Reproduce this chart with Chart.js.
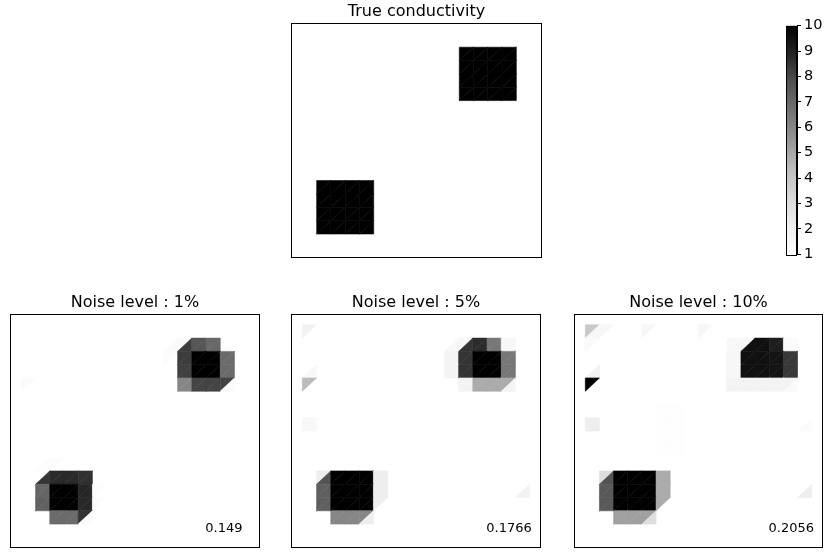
<!DOCTYPE html>
<html>
<head>
<meta charset="utf-8">
<script src="https://cdn.jsdelivr.net/npm/chart.js@4.4.0/dist/chart.umd.min.js"></script>
<style>
  body { margin: 0; background: #fff; width: 825px; height: 554px; position: relative; overflow: hidden; }
  .panel { position: absolute; }
</style>
</head>
<body>
<div class="panel" style="left:291px;top:0px;width:251px;height:258px"><canvas id="c-true"></canvas></div>
<div class="panel" style="left:10px;top:291px;width:250px;height:257px"><canvas id="c-n1"></canvas></div>
<div class="panel" style="left:291px;top:291px;width:250px;height:257px"><canvas id="c-n5"></canvas></div>
<div class="panel" style="left:574px;top:291px;width:249px;height:257px"><canvas id="c-n10"></canvas></div>
<div class="panel" style="left:786px;top:14px;width:41px;height:252px"><canvas id="c-bar"></canvas></div>
<script>
// ── MESH CONDUCTIVITY PANELS ──
// 16x16 mesh, each cell split on the "/" diagonal.
// cell entries: [col, row (from bottom), part, value]
// part: 'S' whole cell, 'U' upper-left triangle, 'L' lower-right triangle

const trueCells = [
  [1,1,'S',10],[2,1,'S',10],[3,1,'S',10],[4,1,'S',10],
  [1,2,'S',10],[2,2,'S',10],[3,2,'S',10],[4,2,'S',10],
  [1,3,'S',10],[2,3,'S',10],[3,3,'S',10],[4,3,'S',10],
  [1,4,'S',10],[2,4,'S',10],[3,4,'S',10],[4,4,'S',10],
  [11,11,'S',10],[12,11,'S',10],[13,11,'S',10],[14,11,'S',10],
  [11,12,'S',10],[12,12,'S',10],[13,12,'S',10],[14,12,'S',10],
  [11,13,'S',10],[12,13,'S',10],[13,13,'S',10],[14,13,'S',10],
  [11,14,'S',10],[12,14,'S',10],[13,14,'S',10],[14,14,'S',10],
];

const noise1Cells = [
  [10,14,'L',1.4],[11,14,'U',1.4],[10,13,'U',1.3],
  [11,14,'L',8.3],[12,14,'S',7.6],[13,14,'S',7.0],
  [11,13,'S',8.3],[12,13,'S',10],[13,13,'S',10],[14,13,'S',6.9],
  [11,12,'S',8.2],[12,12,'S',10],[13,12,'S',10],[14,12,'S',6.9],
  [11,11,'S',6.0],[12,11,'S',8.1],[13,11,'S',8.1],[14,11,'U',8.1],[14,11,'L',1.2],
  [0,11,'U',1.4],
  [1,5,'L',1.2],[2,5,'U',1.2],
  [1,4,'L',8.5],[2,4,'S',8.75],[3,4,'S',8.75],[4,4,'S',8.6],
  [1,3,'S',7.1],[2,3,'S',10],[3,3,'S',10],[4,3,'S',8.85],[5,3,'U',1.2],
  [1,2,'S',7.25],[2,2,'S',10],[3,2,'S',10],[4,2,'S',8.8],[5,2,'U',1.2],
  [2,1,'S',6.9],[3,1,'S',6.9],[4,1,'U',8.5],[4,1,'L',1.2],
];

const noise5Cells = [
  [10,14,'L',1.5],[11,14,'U',1.5],[11,14,'L',8.5],[12,14,'S',8.7],[13,14,'S',6.5],[14,14,'S',1.6],
  [10,13,'S',1.8],[11,13,'S',8.5],[12,13,'S',10],[13,13,'S',10],[14,13,'S',6.5],
  [10,12,'S',1.8],[11,12,'S',8.5],[12,12,'S',10],[13,12,'S',10],[14,12,'S',6.5],
  [11,11,'S',1.8],[12,11,'S',4.9],[13,11,'S',4.9],[14,11,'U',4.9],[14,11,'L',1.8],
  [1,4,'U',2.2],[1,4,'L',7.7],[2,4,'S',10],[3,4,'S',10],[4,4,'S',10],[5,4,'S',2.2],
  [1,3,'S',7.3],[2,3,'S',10],[3,3,'S',10],[4,3,'S',10],[5,3,'S',2.2],
  [1,2,'S',7.3],[2,2,'S',10],[3,2,'S',10],[4,2,'S',10],[5,2,'U',2.2],
  [2,1,'S',6.0],[3,1,'S',6.0],[4,1,'U',6.0],[4,1,'L',2.2],
  [0,15,'U',2.0],[0,12,'L',1.5],[0,11,'U',4.4],[0,8,'S',1.5],[15,3,'L',2.0],
];

const noise10Cells = [
  [10,14,'S',1.5],[11,14,'U',1.5],[11,14,'L',9.5],[12,14,'S',9.5],[13,14,'S',9.1],[14,14,'S',1.3],
  [10,13,'S',1.6],[11,13,'S',9.5],[12,13,'S',9.5],[13,13,'S',9.4],[14,13,'S',8.4],
  [10,12,'S',1.6],[11,12,'S',9.5],[12,12,'S',9.5],[13,12,'S',9.4],[14,12,'S',8.4],
  [10,11,'S',1.8],[11,11,'S',1.9],[12,11,'S',1.9],[13,11,'S',1.9],[14,11,'U',1.9],[14,11,'L',1.4],
  [1,4,'U',3.05],[1,4,'L',7.7],[2,4,'S',10],[3,4,'S',10],[4,4,'S',10],[5,4,'S',4.9],
  [1,3,'S',7.5],[2,3,'S',10],[3,3,'S',10],[4,3,'S',10],[5,3,'S',4.9],
  [1,2,'S',7.5],[2,2,'S',10],[3,2,'S',10],[4,2,'S',10],[5,2,'U',4.9],
  [2,1,'S',5.2],[3,1,'S',5.2],[4,1,'U',5.2],[4,1,'L',3.0],
  [0,15,'U',3.9],[0,15,'L',1.6],[1,15,'U',1.6],[0,14,'U',1.4],
  [4,15,'U',1.6],[8,15,'U',1.6],
  [0,12,'L',2.0],[0,11,'U',10],[0,8,'S',2.2],
  [15,3,'L',2.2],[15,8,'L',1.3],
  [5,9,'S',1.1],[6,9,'S',1.1],[5,8,'S',1.1],[6,8,'S',1.1],
  [5,7,'S',1.1],[6,7,'S',1.1],[5,6,'S',1.1],[6,6,'S',1.1],
];

const panelTitles = ['True conductivity', 'Noise level : 1%', 'Noise level : 5%', 'Noise level : 10%'];
const errorLabels = ['', '0.149', '0.1766', '0.2056'];
const colorbarTicks = [1, 2, 3, 4, 5, 6, 7, 8, 9, 10];
const vMin = 1, vMax = 10;

// matplotlib "Greys" colormap stops
const greyStops = ['#ffffff','#f0f0f0','#d9d9d9','#bdbdbd','#969696','#737373','#525252','#252525','#000000'];

function greys(v) {
  const t = Math.min(1, Math.max(0, (v - vMin) / (vMax - vMin))) * (greyStops.length - 1);
  const i = Math.min(greyStops.length - 2, Math.floor(t));
  const f = t - i;
  const a = parseInt(greyStops[i].slice(1, 3), 16);
  const b = parseInt(greyStops[i + 1].slice(1, 3), 16);
  const g = Math.round(a + (b - a) * f);
  return `rgb(${g},${g},${g})`;
}

const FONT = '"DejaVu Sans", sans-serif';

const meshPlugin = {
  id: 'mesh',
  beforeDatasetsDraw(chart) {
    const { ctx, chartArea: a, scales: { x, y } } = chart;
    ctx.save();
    ctx.beginPath();
    ctx.rect(a.left, a.top, a.right - a.left, a.bottom - a.top);
    ctx.clip();
    ctx.lineWidth = 0.6;
    ctx.lineJoin = 'miter';
    chart.data.datasets[0].data.forEach(c => {
      const x0 = x.getPixelForValue(c.x - 0.5), x1 = x.getPixelForValue(c.x + 0.5);
      const y0 = y.getPixelForValue(c.y - 0.5), y1 = y.getPixelForValue(c.y + 0.5);
      const col = greys(c.v);
      ctx.fillStyle = col;
      ctx.strokeStyle = col;
      const tris = [];
      if (c.part !== 'L') tris.push([[x0, y0], [x0, y1], [x1, y1]]);
      if (c.part !== 'U') tris.push([[x0, y0], [x1, y0], [x1, y1]]);
      tris.forEach(p => {
        ctx.beginPath();
        ctx.moveTo(p[0][0], p[0][1]);
        ctx.lineTo(p[1][0], p[1][1]);
        ctx.lineTo(p[2][0], p[2][1]);
        ctx.closePath();
        ctx.fill();
        ctx.stroke();
      });
    });
    ctx.restore();
  },
  afterDraw(chart) {
    const { ctx, chartArea: a } = chart;
    ctx.save();
    ctx.strokeStyle = '#000';
    ctx.lineWidth = 1;
    ctx.strokeRect(Math.round(a.left) + 0.5, Math.round(a.top) + 0.5,
                   Math.round(a.right - a.left) - 1, Math.round(a.bottom - a.top) - 1);
    const note = chart.options.plugins.mesh && chart.options.plugins.mesh.note;
    if (note) {
      const { x, y } = chart.scales;
      ctx.fillStyle = '#000';
      ctx.font = `13px ${FONT}`;
      ctx.textAlign = 'left';
      ctx.textBaseline = 'alphabetic';
      ctx.fillText(note, x.getPixelForValue(12.95), y.getPixelForValue(0.41));
    }
    ctx.restore();
  }
};

function makePanel(id, cells, title, note) {
  return new Chart(document.getElementById(id), {
    type: 'scatter',
    data: {
      datasets: [{
        data: cells.map(([col, row, part, v]) => ({ x: col + 0.5, y: row + 0.5, part, v })),
        pointRadius: 0, pointHoverRadius: 0,
      }]
    },
    options: {
      responsive: true, maintainAspectRatio: false, animation: false,
      events: [],
      layout: { padding: 0 },
      scales: {
        x: { type: 'linear', min: -0.8, max: 16.8, display: false },
        y: { type: 'linear', min: -0.8, max: 16.8, display: false },
      },
      plugins: {
        legend: { display: false },
        tooltip: { enabled: false },
        title: {
          display: true, text: title, color: '#000',
          font: { family: FONT, size: 16, weight: 'normal' },
          padding: { top: 2, bottom: 2 },
        },
        mesh: { note },
      }
    },
    plugins: [meshPlugin]
  });
}

function makeColorbar() {
  new Chart(document.getElementById('c-bar'), {
    type: 'bar',
    data: {
      labels: ['cb'],
      datasets: [{
        data: [[vMin, vMax]],
        barPercentage: 1, categoryPercentage: 1, borderWidth: 0,
        backgroundColor: (c) => {
          const a = c.chart.chartArea;
          if (!a) return '#888';
          const g = c.chart.ctx.createLinearGradient(0, a.bottom, 0, a.top);
          greyStops.forEach((col, i) => g.addColorStop(i / (greyStops.length - 1), col));
          return g;
        },
      }]
    },
    options: {
      responsive: true, maintainAspectRatio: false, animation: false,
      events: [],
      layout: { padding: { top: 8, bottom: 8, left: 0, right: 0 }, autoPadding: false },
      scales: {
        x: { display: false },
        y: {
          position: 'right', min: vMin, max: vMax,
          afterBuildTicks: (s) => { s.ticks = colorbarTicks.map(v => ({ value: v })); },
          afterFit: (s) => { s.width = 30; },
          ticks: { color: '#000', padding: 3, font: { family: FONT, size: 14.5 } },
          grid: { drawOnChartArea: false, drawTicks: true, tickLength: 4, color: '#000' },
          border: { display: true, color: '#000' },
        }
      },
      plugins: { legend: { display: false }, tooltip: { enabled: false } }
    },
    plugins: [{
      id: 'cbFrame',
      afterDraw(chart) {
        const { ctx, chartArea: a } = chart;
        ctx.save();
        ctx.strokeStyle = '#000';
        ctx.strokeRect(Math.round(a.left) + 0.5, Math.round(a.top) + 0.5,
                       Math.round(a.right - a.left) - 1, Math.round(a.bottom - a.top));
        ctx.restore();
      }
    }]
  });
}

document.addEventListener('DOMContentLoaded', () => {
  makePanel('c-true', trueCells, panelTitles[0], errorLabels[0]);
  makePanel('c-n1', noise1Cells, panelTitles[1], errorLabels[1]);
  makePanel('c-n5', noise5Cells, panelTitles[2], errorLabels[2]);
  makePanel('c-n10', noise10Cells, panelTitles[3], errorLabels[3]);
  makeColorbar();
});
</script>
</body>
</html>
